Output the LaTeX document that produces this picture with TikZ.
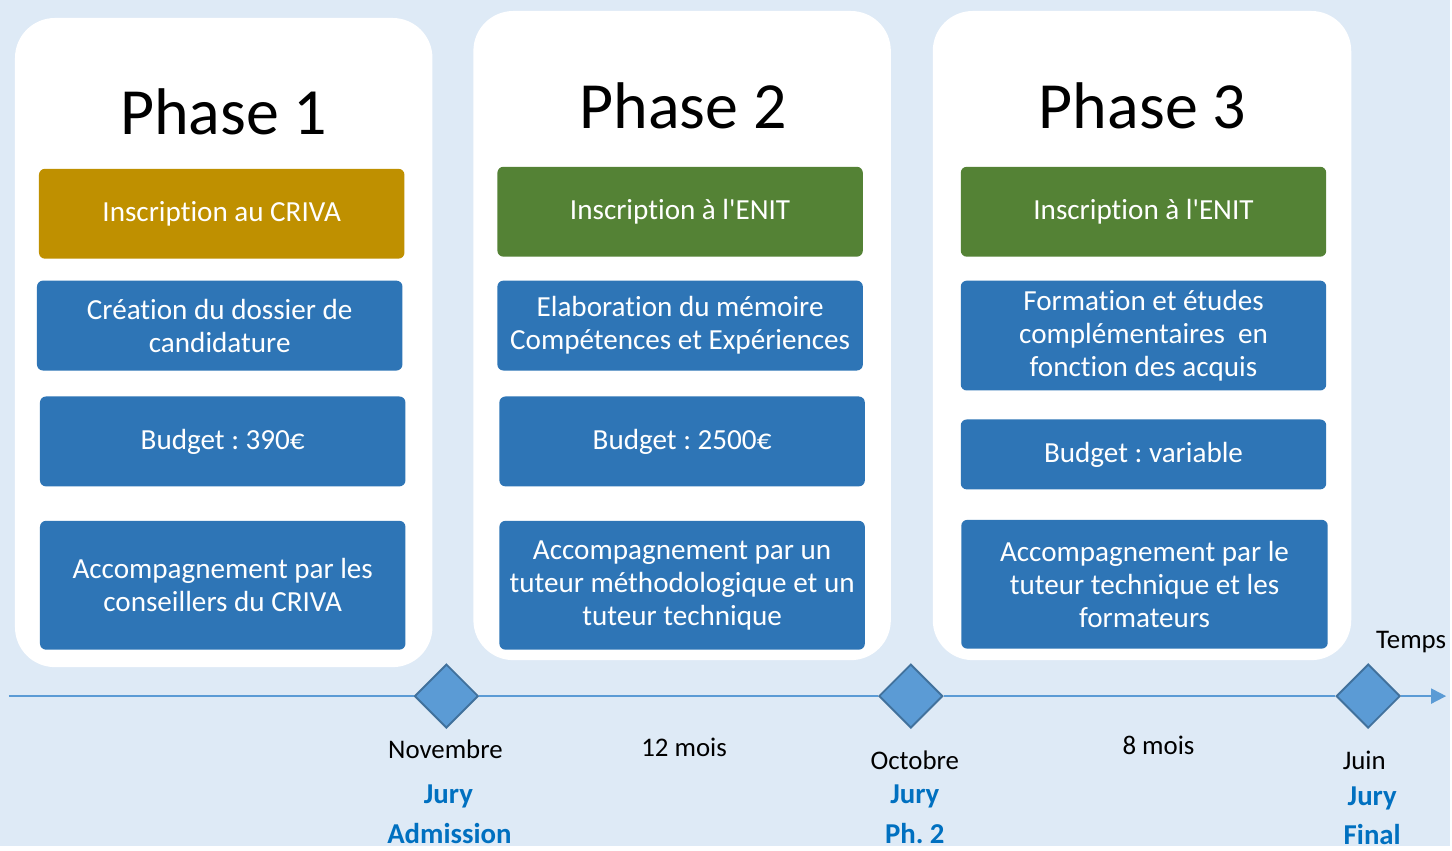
\documentclass[tikz,border=0pt]{standalone}
\usepackage{fontspec}
\setmainfont[Ligatures={NoCommon}]{Carlito}
\newfontfamily\calib[Ligatures={NoCommon}]{Carlito}
\usetikzlibrary{shapes.geometric,arrows.meta}
\definecolor{bgblue}{HTML}{DEEAF6}
\definecolor{boxblue}{HTML}{2E75B6}
\definecolor{boxgold}{HTML}{BF9000}
\definecolor{boxgreen}{HTML}{548235}
\definecolor{lineblue}{HTML}{5B9BD5}
\definecolor{edgeblue}{HTML}{41719C}
\definecolor{juryblue}{HTML}{0070C0}
\frenchspacing

\begin{document}
\begin{tikzpicture}[x=0.02cm, y=-0.02cm,
    panel/.style={fill=white, rounded corners=0.8cm},
    phase/.style={font=\calib\fontsize{37.6}{45}\selectfont},
    box/.style={fill=boxblue, rounded corners=0.12cm, text=white, align=center,
      font=\calib\fontsize{16.6}{18.9}\selectfont, minimum width=7.32cm, inner sep=0pt},
    milestone/.style={diamond, fill=lineblue, draw=edgeblue, line width=1.1pt,
      minimum size=1.28cm, inner sep=0pt},
    label/.style={font=\calib\fontsize{15.3}{18}\selectfont},
    jury/.style={font=\calib\fontsize{16.4}{19}\selectfont\bfseries, text=juryblue}]
    \fill[bgblue] (0,0) rectangle (1452,847);

    \fill[panel] (15,18) rectangle (433,668);
    \fill[panel] (474,11) rectangle (892,661);
    \fill[panel] (934,11) rectangle (1353,661);

    % phase 1
    \node[phase] (p1) at (224,112) {Phase 1};
    \node[box, fill=boxgold, minimum height=1.8cm] (p1a) at (222,214) {Inscription au CRIVA};
    \node[box, minimum height=1.8cm] (p1b) at (220,326) {Création du dossier de\\candidature};
    \node[box, minimum height=1.8cm] (p1c) at (223,442) {Budget : 390€};
    \node[box, minimum height=2.58cm] (p1d) at (223,586) {Accompagnement par les\\conseillers du CRIVA};

    % phase 2
    \node[phase] (p2) at (684,106) {Phase 2};
    \node[box, fill=boxgreen, minimum height=1.8cm] (p2a) at (681,212) {Inscription à l'ENIT};
    \node[box, minimum height=1.8cm] (p2b) at (681,326) {Elaboration du mémoire\\Compétences et Expériences};
    \node[box, minimum height=1.8cm] (p2c) at (683,442) {Budget : 2500€};
    \node[box, minimum height=2.58cm] (p2d) at (683,586) {Accompagnement par un\\tuteur méthodologique et un\\tuteur technique};

    % phase 3
    \node[phase] (p3) at (1144,106) {Phase 3};
    \node[box, fill=boxgreen, minimum height=1.8cm] (p3a) at (1145,212) {Inscription à l'ENIT};
    \node[box, minimum height=2.2cm] (p3b) at (1145,336) {Formation et études\\complémentaires\ \ en\\fonction des acquis};
    \node[box, minimum height=1.4cm] (p3c) at (1145,455) {Budget : variable};
    \node[box, minimum width=7.34cm, minimum height=2.58cm] (p3d) at (1146,585) {Accompagnement par le\\tuteur technique et les\\formateurs};

    % timeline
    \coordinate (t0) at (9,697);
    \coordinate (t1) at (1448,697);
    \node[milestone] (m1) at (447,697) {};
    \node[milestone] (m2) at (912,697) {};
    \node[milestone] (m3) at (1370,697) {};
    \draw[lineblue, line width=1.1pt] (t0) -- (m1) (m1) -- (m2) (m2) -- (m3);
    \draw[lineblue, line width=1.1pt, -{Triangle[length=0.3cm, width=0.3cm]}] (m3) -- (t1);
    \node[label] (temps) at (1413,643) {Temps};

    \node[label] (n1) at (446,750) {Novembre};
    \node[jury] (j1) at (449,797) {Jury};
    \node[jury] (k1) at (450,835) {Admission};
    \node[label] (d1) at (685,748) {12 mois};

    \node[label] (n2) at (916,761) {Octobre};
    \node[jury] (j2) at (916,797) {Jury};
    \node[jury] (k2) at (916,835) {Ph. 2};
    \node[label] (d2) at (1160,746) {8 mois};

    \node[label] (n3) at (1366,761) {Juin};
    \node[jury] (j3) at (1374,799) {Jury};
    \node[jury] (k3) at (1374,836) {Final};
    \useasboundingbox (0,0) rectangle (1452,847);
\end{tikzpicture}
\end{document}
